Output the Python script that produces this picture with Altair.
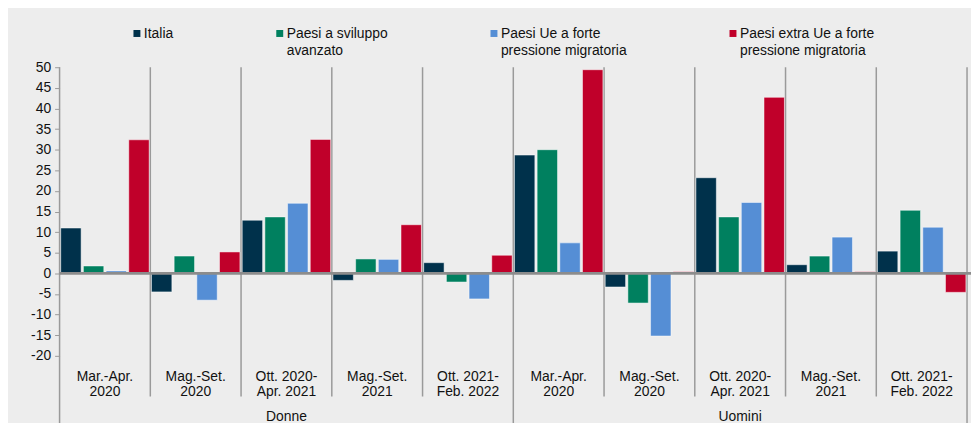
import altair as alt
import pandas as pd

# ---- data ----
sexes = ["Donne", "Uomini"]
periods = ["Mar.-Apr.\n2020", "Mag.-Set.\n2020", "Ott. 2020-\nApr. 2021", "Mag.-Set.\n2021", "Ott. 2021-\nFeb. 2022"]
series = ["Italia", "Paesi a sviluppo\navanzato", "Paesi Ue a forte\npressione migratoria",
          "Paesi extra Ue a forte\npressione migratoria"]
colors = ["#00314B", "#00805F", "#558ED5", "#C0002A"]

italia = [11.0, -4.5, 12.9, -1.7, 2.6, 28.7, -3.3, 23.2, 2.1, 5.4]
sviluppo = [1.8, 4.2, 13.7, 3.5, -2.1, 30.0, -7.2, 13.7, 4.2, 15.3]
ue_forte = [0.6, -6.5, 17.0, 3.4, -6.2, 7.4, -15.2, 17.2, 8.8, 11.2]
extra_ue = [32.4, 5.2, 32.5, 11.8, 4.4, 49.4, 0.4, 42.7, 0.4, -4.6]
y_ticks = list(range(-20, 55, 5))

# ---- tables ----
keys = [f"{s}|{p}" for s in sexes for p in periods]
values = [italia, sviluppo, ue_forte, extra_ue]
rows = []
for si, name in enumerate(series):
    for ki, k in enumerate(keys):
        rows.append({"key": k, "serie": name, "value": values[si][ki]})
df = pd.DataFrame(rows)

lab_df = pd.DataFrame({"key": keys, "label": [p for s in sexes for p in periods]})
sep_short = pd.DataFrame({"key": [k for i, k in enumerate(keys) if i % 5 != 0]})
sep_long = pd.DataFrame({"key": [k for i, k in enumerate(keys) if i % 5 == 0]})
sex_df = pd.DataFrame({"key": [keys[2], keys[7]], "label": sexes})

W, H = 915, 291
FONT = "Liberation Sans"
GRAY = "#9a9a9a"

xs = alt.Scale(paddingInner=0, paddingOuter=0)
X = lambda **kw: alt.X("key:N", sort=keys, scale=xs, axis=None, **kw)

yscale = alt.Scale(domain=[-20, 50], nice=False)
yaxis = alt.Axis(values=y_ticks, grid=False, domain=False, tickColor=GRAY,
                 tickSize=5, labelFontSize=14, labelFont=FONT, labelColor="#111111",
                 labelPadding=4, title=None, labelOverlap=False,
                 labelExpr="'' + datum.value")

bars = alt.Chart(df).mark_bar(stroke="#ffffff", strokeWidth=1, strokeOpacity=0.5).encode(
    x=X(),
    xOffset=alt.XOffset("serie:N", sort=series,
                        scale=alt.Scale(paddingInner=0.1, paddingOuter=0.05)),
    y=alt.Y("value:Q", scale=yscale, axis=yaxis),
    color=alt.Color("serie:N", sort=series, scale=alt.Scale(domain=series, range=colors),
                    legend=alt.Legend(orient="none", legendX=71, legendY=-47, direction="horizontal",
                                      columns=4, title=None,
                                      symbolType="M-1,0.71H1V2.71H-1Z", symbolSize=49,
                                      symbolStrokeWidth=0, labelFontSize=14, labelFont=FONT,
                                      labelColor="#111111", labelLimit=400, labelOffset=0,
                                      columnPadding=100, labelBaseline="top",
                                      labelExpr="indexof(datum.label, '\\n') < 0 ? [datum.label, ' '] : split(datum.label, '\\n')")),
)

short_rules = alt.Chart(sep_short).mark_rule(color=GRAY, strokeWidth=1.5).encode(
    x=X(bandPosition=0), y=alt.value(0), y2=alt.value(H + 41))
long_rules = alt.Chart(sep_long).mark_rule(color=GRAY, strokeWidth=1.5).encode(
    x=X(bandPosition=0), y=alt.value(0), y2=alt.value(H + 70))
end_rule = alt.Chart(sep_long.head(1)).mark_rule(color=GRAY, strokeWidth=1.5).encode(
    x=alt.value(W), y=alt.value(0), y2=alt.value(H + 70))

zero = alt.Chart(sep_long.head(1)).mark_rule(color="#8c8c8c", strokeWidth=3).encode(
    y=alt.Y(datum=0, scale=yscale, axis=yaxis), x=alt.value(0), x2=alt.value(W + 4))

period_text = alt.Chart(lab_df).mark_text(
    fontSize=14, font=FONT, color="#111111", lineBreak="\n", baseline="top", lineHeight=15
).encode(x=X(), y=alt.value(H + 14), text="label:N")

sex_text = alt.Chart(sex_df).mark_text(
    fontSize=14, font=FONT, color="#111111", baseline="middle"
).encode(x=X(), y=alt.value(H + 62), text="label:N")

chart = alt.layer(short_rules, long_rules, end_rule, bars, zero, period_text, sex_text).properties(
    width=W, height=H, autosize=alt.AutoSizeParams(type="none"),
    padding={"left": 52, "top": 58, "right": 4, "bottom": 66},
).configure(background="#EDEDED", style={"guide-label": {"lineHeight": 17}}).configure_view(
    strokeWidth=0)

chart.save("out.html", embed_options={"renderer": "svg", "actions": False})
